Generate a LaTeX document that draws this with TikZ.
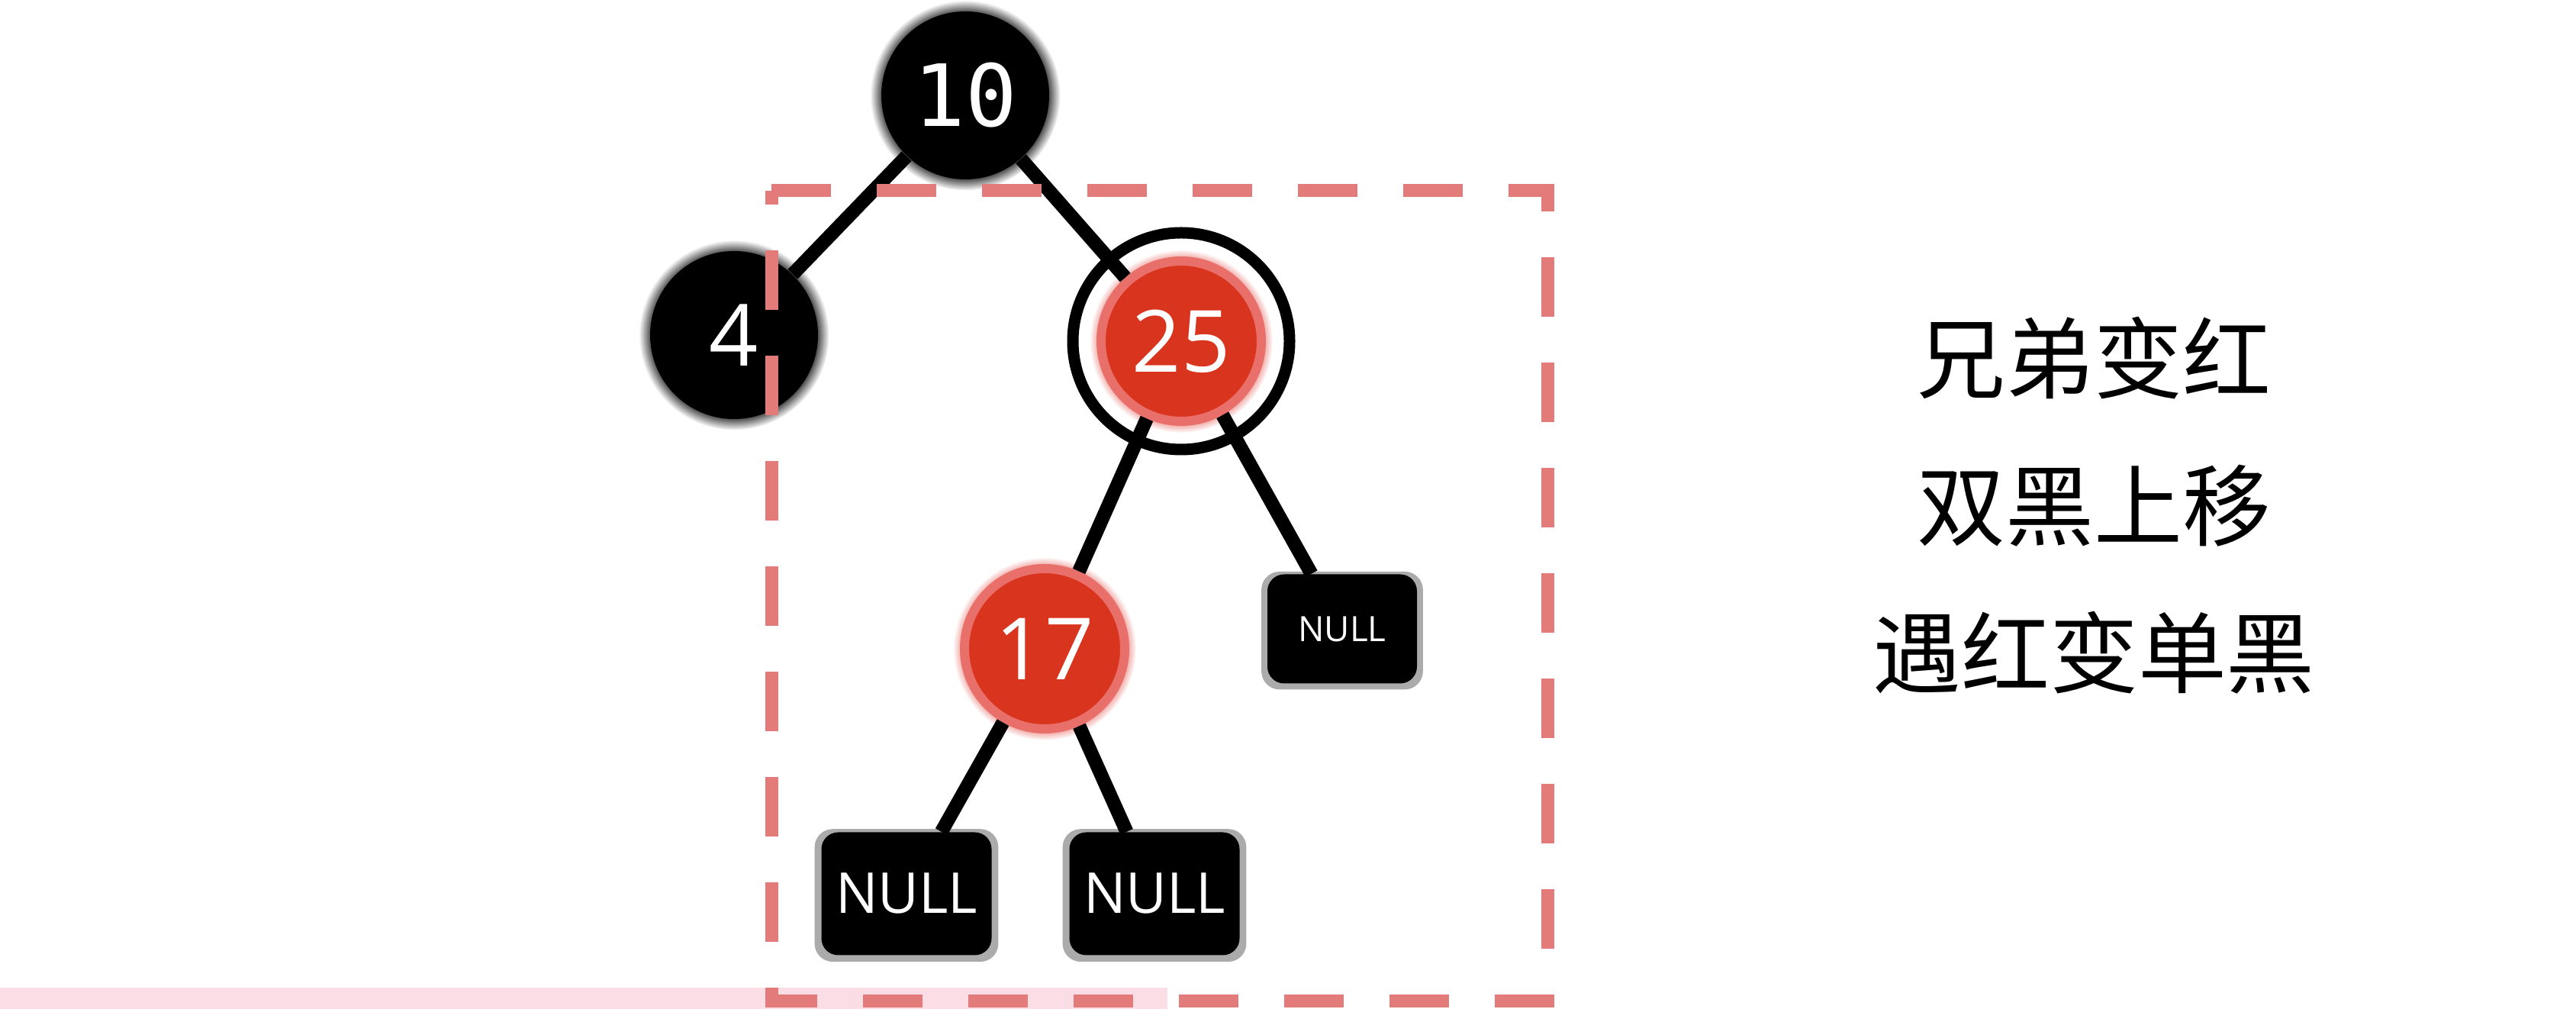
\documentclass[tikz,border=0pt]{standalone}
\usepackage{fontspec}
\newfontfamily\cjk{Noto Sans CJK SC}
\newfontfamily\numfont{Open Sans}
\newfontfamily\zerofont{DejaVu Sans Mono}
\usetikzlibrary{shadows}

\definecolor{nodered}{HTML}{D8341E}
\definecolor{glowred}{HTML}{E9706A}
\definecolor{boxpink}{HTML}{E27B79}
\definecolor{bandpink}{HTML}{FADDE5}

\tikzset{
  blacknode/.style={circle, fill=black, text=white, inner sep=0pt, minimum size=2.2cm,
    font=\numfont\fontsize{32}{32}\selectfont, circular glow={fill=black!85, shadow scale=1.13}},
  rednode/.style={circle, fill=nodered, draw=glowred, line width=0.12cm, text=white, inner sep=0pt,
    minimum size=2.1cm, font=\numfont\fontsize{32}{32}\selectfont, circular glow={fill=glowred, shadow scale=1.14}},
  nullbox/.style={rectangle, rounded corners=0.22cm, fill=black, text=white, inner sep=0pt,
    font=\numfont\fontsize{21}{21}\selectfont,
    drop shadow={shadow xshift=0pt, shadow yshift=-0.02cm, shadow scale=1.08, fill=black!55, opacity=0.6}},
  link/.style={line width=0.18cm},
  ring/.style={draw=black, line width=0.15cm},
  frame/.style={draw=boxpink, line width=0.17cm, dash pattern=on 0.78cm off 0.6cm},
}

\begin{document}
\begin{tikzpicture}
        \fill[white] (0,0) rectangle (33.76,13.22);
        \useasboundingbox (0,0) rectangle (33.76,13.22);
        \fill[bandpink] (0,0) rectangle (15.3,0.28);

        % Nodes
        \node (n10) at (12.65,11.97) [blacknode, font=\zerofont\fontsize{32}{32}\selectfont] {10};
        \node (n4) at (9.62,8.83) [blacknode] {4};
        \node (n25) at (15.48,8.75) [rednode] {25};
        \node (n17) at (13.69,4.72) [rednode] {17};
        \node (nullR) at (17.59,4.98) [nullbox, minimum width=1.96cm, minimum height=1.43cm,
          font=\numfont\fontsize{13}{13}\selectfont] {NULL};
        \node (nullL) at (11.88,1.51) [nullbox, minimum width=2.23cm, minimum height=1.61cm] {NULL};
        \node (nullM) at (15.13,1.51) [nullbox, minimum width=2.23cm, minimum height=1.61cm] {NULL};

        % Ring round the sibling
        \draw[ring] (n25) circle (1.42);

        % Edges
        \draw[link] (n10) -- (n4);
        \draw[link] (n10) -- (n25);
        \draw[link] (n25) -- (n17);
        \draw[link] (n25) -- (nullR);
        \draw[link] (n17) -- (nullL);
        \draw[link] (n17) -- (nullM);

        % Dashed frame
        \draw[frame] (10.11,10.72) -- (20.28,10.72) -- (20.28,0.1) -- (10.11,0.1) -- cycle;

        % Rules
        \node (rules) at (27.44,6.60) [font=\cjk\fontsize{33}{55}\selectfont, align=center]
          {兄弟变红\\双黑上移\\遇红变单黑};
\end{tikzpicture}
\end{document}
